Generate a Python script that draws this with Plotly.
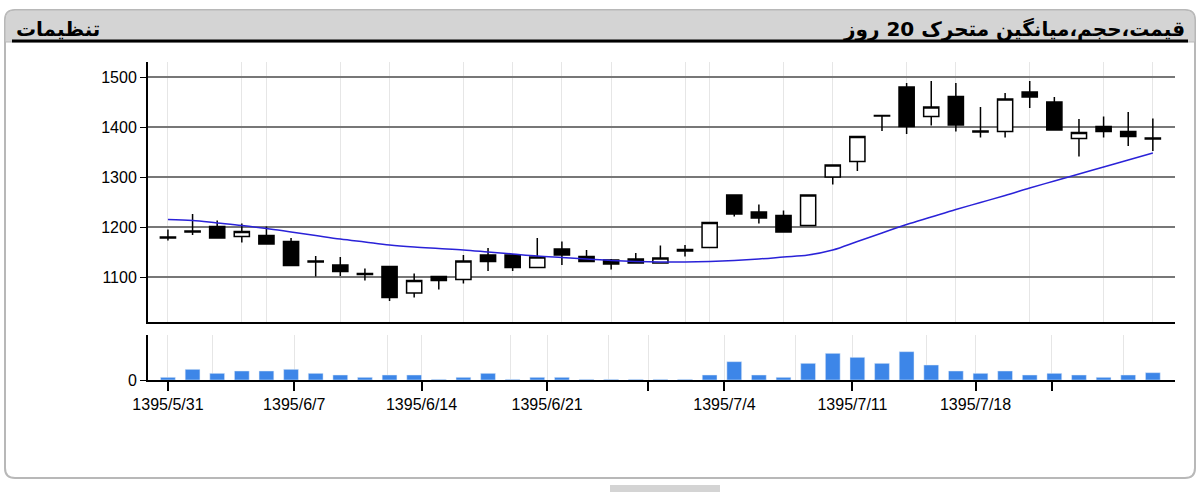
import plotly.graph_objects as go

# trading days (index), price OHLC, 20-day moving average, volume
days = list(range(41))
opens = [1178, 1190, 1201, 1181, 1183, 1171, 1132, 1124, 1107, 1121, 1068, 1101, 1095, 1144, 1144, 1119, 1156, 1141, 1134, 1136, 1128,
         1152, 1159, 1264, 1230, 1223, 1203, 1300, 1331, 1423, 1480, 1421, 1461, 1392, 1391, 1470, 1450, 1377, 1401, 1391, 1378]
highs = [1195, 1226, 1213, 1207, 1201, 1178, 1142, 1140, 1117, 1121, 1107, 1101, 1144, 1158, 1146, 1178, 1171, 1154, 1136, 1148, 1163,
         1164, 1209, 1264, 1245, 1233, 1264, 1324, 1381, 1424, 1488, 1492, 1488, 1440, 1468, 1492, 1460, 1416, 1421, 1430, 1417]
lows = [1173, 1184, 1178, 1169, 1166, 1123, 1101, 1102, 1093, 1052, 1059, 1075, 1087, 1112, 1112, 1119, 1124, 1131, 1115, 1128, 1127,
        1141, 1159, 1221, 1207, 1190, 1203, 1285, 1312, 1392, 1386, 1403, 1391, 1379, 1379, 1438, 1394, 1341, 1379, 1362, 1352]
closes = [1180, 1192, 1178, 1191, 1166, 1123, 1130, 1111, 1105, 1059, 1093, 1093, 1132, 1131, 1119, 1140, 1144, 1131, 1126, 1128, 1138,
          1155, 1209, 1226, 1218, 1190, 1264, 1324, 1381, 1422, 1401, 1440, 1404, 1390, 1456, 1460, 1394, 1389, 1391, 1381, 1376]
ma20 = [1215, 1213, 1208, 1203, 1197, 1190, 1183, 1176, 1170, 1164, 1160, 1157, 1154, 1150, 1146, 1142, 1139, 1136, 1133, 1131, 1130,
        1130, 1131, 1133, 1136, 1140, 1144, 1154, 1171, 1188, 1205, 1220, 1235, 1249, 1263, 1278, 1292, 1306, 1320, 1334, 1348]
volume = [8, 32, 20, 27, 27, 32, 20, 15, 8, 15, 15, 2, 8, 20, 2, 8, 8, 2, 2, 2, 2,
          2, 15, 55, 15, 8, 50, 80, 68, 50, 85, 45, 27, 20, 27, 15, 20, 15, 8, 15, 22]
tick_pos = [0, 5.13, 10.3, 15.4, 19.5, 22.6, 27.8, 32.8, 35.9]
tick_text = ["1395/5/31", "1395/6/7", "1395/6/14", "1395/6/21", "", "1395/7/4", "1395/7/11", "1395/7/18", ""]
grid_days = [0, 3, 4, 7, 9, 12, 14, 16, 18, 21, 22, 25, 27, 30, 32, 35, 38, 40]
vol_grid = [0, 5.13, 10.3, 15.4, 19.5, 22.6, 27.8, 32.8, 35.9, 1.8, 8.9, 13.9, 17.9, 25.5, 30.8, 38.8]

W, H = 1200, 492


def px(x):
    return x / W


def py(y):
    return 1 - y / H


fig = go.Figure()
fig.add_trace(go.Candlestick(
    x=days, open=opens, high=highs, low=lows, close=closes,
    increasing=dict(line=dict(color="black", width=1.5), fillcolor="white"),
    decreasing=dict(line=dict(color="black", width=1.5), fillcolor="black"),
    whiskerwidth=0, showlegend=False, hoverinfo="skip",
))
fig.add_trace(go.Scatter(x=days, y=ma20, mode="lines", line=dict(color="#2a22d8", width=1.5, shape="spline"),
                         showlegend=False))
fig.add_trace(go.Bar(x=days, y=volume, marker_color="#3d86e8", width=0.6, xaxis="x2", yaxis="y2", showlegend=False))

xr = [-0.81, 40.9]
fig.update_layout(
    autosize=True, margin=dict(l=0, r=0, t=0, b=0),
    paper_bgcolor="white", plot_bgcolor="white", boxgap=0.12,
    font=dict(family="Liberation Sans", size=16, color="black"),
    xaxis=dict(domain=[px(148), px(1175)], range=xr, rangeslider=dict(visible=False), showticklabels=False,
               showgrid=False, zeroline=False, showline=True, linecolor="black", linewidth=2, anchor="y",
               tickvals=[], ticks="", automargin=False,
               minor=dict(tickvals=grid_days, showgrid=True, gridcolor="#e6e6e6", ticklen=0)),
    yaxis=dict(domain=[py(322), py(62)], range=[1010, 1530], tickvals=[1100, 1200, 1300, 1400, 1500],
               showgrid=True, gridcolor="#777777", gridwidth=1.5, zeroline=False, showline=True, linecolor="black",
               linewidth=2, ticks="outside", ticklen=6, tickcolor="black", anchor="x", automargin=False),
    xaxis2=dict(domain=[px(148), px(1175)], range=xr, tickvals=tick_pos, ticktext=tick_text, showgrid=False,
                zeroline=False, showline=True, linecolor="black", linewidth=2, ticks="outside", ticklen=9,
                tickwidth=2, tickcolor="black", anchor="y2", automargin=False,
                minor=dict(tickvals=vol_grid, showgrid=True, gridcolor="#e6e6e6", ticklen=0)),
    yaxis2=dict(domain=[py(380), py(335)], range=[0, 135], tickvals=[0], showgrid=False, zeroline=False,
                showline=True, linecolor="black", linewidth=2, ticks="outside", ticklen=6, tickcolor="black",
                anchor="x2", automargin=False),
)

# panel frame and header
frame = "M 15,10 L 1185,10 Q 1195,10 1195,20 L 1195,468 Q 1195,478 1185,478 L 15,478 Q 5,478 5,468 L 5,20 Q 5,10 15,10 Z"
header = "M 15,10 L 1185,10 Q 1195,10 1195,20 L 1195,42 L 5,42 L 5,20 Q 5,10 15,10 Z"


def to_paper(path):
    out = []
    for tok in path.split():
        if "," in tok:
            a, b = tok.split(",")
            out.append(f"{px(float(a)):.5f},{py(float(b)):.5f}")
        else:
            out.append(tok)
    return " ".join(out)


fig.add_shape(type="path", path=to_paper(frame), xref="paper", yref="paper",
              line=dict(color="#b8b8b8", width=2), fillcolor="rgba(0,0,0,0)", layer="below")
fig.add_shape(type="path", path=to_paper(header), xref="paper", yref="paper",
              line=dict(color="#b8b8b8", width=1), fillcolor="#d4d4d4", layer="below")
fig.add_shape(type="line", x0=px(12), x1=px(1188), y0=py(41), y1=py(41), xref="paper", yref="paper",
              line=dict(color="black", width=3))
fig.add_shape(type="rect", x0=px(610), x1=px(720), y0=py(485), y1=py(492), xref="paper", yref="paper",
              line=dict(width=0), fillcolor="#d4d4d4")

fig.add_annotation(x=px(1187), y=py(29), xref="paper", yref="paper", text="<b>قیمت،حجم،میانگین متحرک 20 روز</b>",
                   showarrow=False, xanchor="right", yanchor="middle",
                   font=dict(family="DejaVu Sans", size=20, color="black"))
fig.add_annotation(x=px(14), y=py(29), xref="paper", yref="paper", text="<b>تنظیمات</b>",
                   showarrow=False, xanchor="left", yanchor="middle",
                   font=dict(family="DejaVu Sans", size=20, color="black"))

fig.write_html("out.html", default_width="100vw", default_height="100vh", config={"displayModeBar": False},
               post_script="document.documentElement.style.overflow='hidden';document.body.style.margin='0';"
                           "document.body.style.overflow='hidden';window.dispatchEvent(new Event('resize'));")
